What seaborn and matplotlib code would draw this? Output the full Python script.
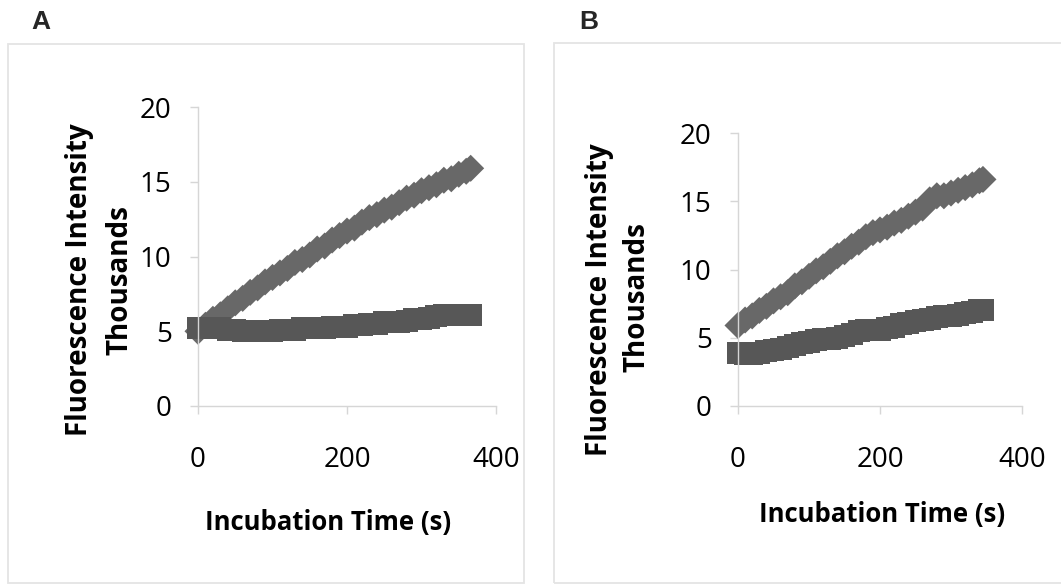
import matplotlib
matplotlib.use("Agg")
import matplotlib.pyplot as plt
import matplotlib.patches as mpatches
import seaborn as sns
import pandas as pd

# ---------------- data ----------------
time_a = [0, 10, 20, 30, 40, 50, 60, 70, 80, 90, 100, 110, 120, 130, 140, 150, 160, 170, 180,
          190, 200, 210, 220, 230, 240, 250, 260, 270, 280, 290, 300, 310, 320, 330, 340, 350,
          360, 366]
upper_a = [5.0, 5.4, 5.8, 6.1, 6.5, 6.9, 7.2, 7.6, 7.9, 8.3, 8.6, 8.9, 9.2, 9.6, 9.8, 10.1,
           10.5, 10.7, 11.1, 11.4, 11.7, 11.9, 12.3, 12.6, 12.8, 13.1, 13.3, 13.6, 13.9, 14.1,
           14.4, 14.6, 14.8, 15.1, 15.2, 15.5, 15.7, 15.9]
lower_a = [5.2, 5.2, 5.2, 5.2, 5.1, 5.1, 5.0, 5.0, 5.0, 5.0, 5.0, 5.1, 5.1, 5.1, 5.2, 5.2,
           5.2, 5.2, 5.3, 5.3, 5.3, 5.4, 5.4, 5.5, 5.5, 5.6, 5.6, 5.6, 5.7, 5.8, 5.8, 5.9,
           6.0, 6.1, 6.1, 6.1, 6.1, 6.1]

time_b = [0, 10, 20, 30, 40, 50, 60, 70, 80, 90, 100, 110, 120, 130, 140, 150, 160, 170, 180,
          190, 200, 210, 220, 230, 240, 250, 260, 270, 280, 290, 300, 310, 320, 330, 340, 345]
upper_b = [5.9, 6.3, 6.6, 7.0, 7.3, 7.7, 8.0, 8.3, 8.8, 9.1, 9.5, 9.9, 10.2, 10.6, 11.0, 11.3,
           11.7, 12.0, 12.4, 12.7, 12.9, 13.1, 13.4, 13.6, 13.9, 14.2, 14.5, 15.1, 15.4, 15.4,
           15.6, 15.8, 16.0, 16.2, 16.5, 16.6]
lower_b = [3.9, 3.8, 3.8, 3.9, 4.0, 4.1, 4.2, 4.3, 4.5, 4.6, 4.7, 4.8, 4.9, 4.9, 5.0, 5.1,
           5.3, 5.5, 5.6, 5.6, 5.6, 5.7, 5.8, 6.0, 6.1, 6.2, 6.3, 6.4, 6.5, 6.6, 6.6, 6.7,
           6.8, 6.9, 7.0, 7.0]

x_ticks = [0, 200, 400]
y_ticks = [0, 5, 10, 15, 20]
panel_labels = ["A", "B"]
x_title = "Incubation Time (s)"
y_title = "Fluorescence Intensity"
unit_label = "Thousands"

# ---------------- style ----------------
sns.set_theme(style="white")
plt.rcParams["font.family"] = ["Open Sans", "DejaVu Sans"]

W, H = 1061, 587
fig = plt.figure(figsize=(W / 100, H / 100), dpi=100)
fig.patch.set_facecolor("white")

def fx(px):
    return px / W

def fy(py):
    return 1 - py / H

# frames around the two panels
frame_col = "#e4e4e4"
fig.patches.append(mpatches.Rectangle((fx(8), fy(583)), fx(524 - 8), (583 - 44) / H,
                                      transform=fig.transFigure, fill=False,
                                      edgecolor=frame_col, linewidth=1.3))
fig.patches.append(mpatches.Rectangle((fx(554), fy(583)), fx(1075 - 554), (583 - 43) / H,
                                      transform=fig.transFigure, fill=False,
                                      edgecolor=frame_col, linewidth=1.3, clip_on=False))

upper_col = "#686868"
lower_col = "#575757"
axis_col = "#d6d6d6"

panels = [
    dict(t=time_a, up=upper_a, lo=lower_a, box=(198, 496, 107, 406),
         ylab=(-0.396, 0.421), unit=(-0.262, 0.421), xlab=(0.436, -0.388),
         letter=(41, 22)),
    dict(t=time_b, up=upper_b, lo=lower_b, box=(738, 1022, 133, 406),
         ylab=(-0.486, 0.388), unit=(-0.356, 0.399), xlab=(0.507, -0.399),
         letter=(589, 22)),
]

for p, letter in zip(panels, panel_labels):
    l, r, t, b = p["box"]
    ax = fig.add_axes([fx(l), fy(b), fx(r - l), (b - t) / H])
    ax.set_facecolor("none")
    du = pd.DataFrame({"t": p["t"], "v": p["up"]})
    dl = pd.DataFrame({"t": p["t"], "v": p["lo"]})
    sns.scatterplot(data=du, x="t", y="v", ax=ax, marker="D", s=190,
                    color=upper_col, edgecolor="none", linewidth=0, clip_on=False)
    sns.scatterplot(data=dl, x="t", y="v", ax=ax, marker="s", s=250,
                    color=lower_col, edgecolor="none", linewidth=0, clip_on=False)
    ax.set_xlim(0, 400)
    ax.set_ylim(0, 20)
    ax.set_xticks(x_ticks)
    ax.set_yticks(y_ticks)
    for s in ["top", "right"]:
        ax.spines[s].set_visible(False)
    for s in ["left", "bottom"]:
        ax.spines[s].set_color(axis_col)
        ax.spines[s].set_linewidth(1.0)
    ax.tick_params(axis="both", which="both", direction="out", length=6, width=1.0,
                   color=axis_col, labelcolor="black", labelsize=20,
                   bottom=True, left=True)
    ax.tick_params(axis="x", pad=23)
    ax.tick_params(axis="y", pad=13)
    ax.set_xlabel(x_title, fontsize=18.5, fontweight="bold", color="black")
    ax.xaxis.set_label_coords(*p["xlab"])
    ax.xaxis.label.set_va("center")
    ax.set_ylabel("")
    ax.text(p["ylab"][0], p["ylab"][1], y_title, transform=ax.transAxes, rotation=90,
            ha="center", va="center", fontsize=20, fontweight="bold", color="black")
    ax.text(p["unit"][0], p["unit"][1], unit_label, transform=ax.transAxes, rotation=90,
            ha="center", va="center", fontsize=20, fontweight="bold", color="black")
    fig.text(fx(p["letter"][0]), fy(p["letter"][1]), letter, ha="center", va="center",
             fontsize=19, fontweight="bold", family=["Liberation Sans", "DejaVu Sans"])

fig.savefig("out.png", dpi=100, facecolor="white")
